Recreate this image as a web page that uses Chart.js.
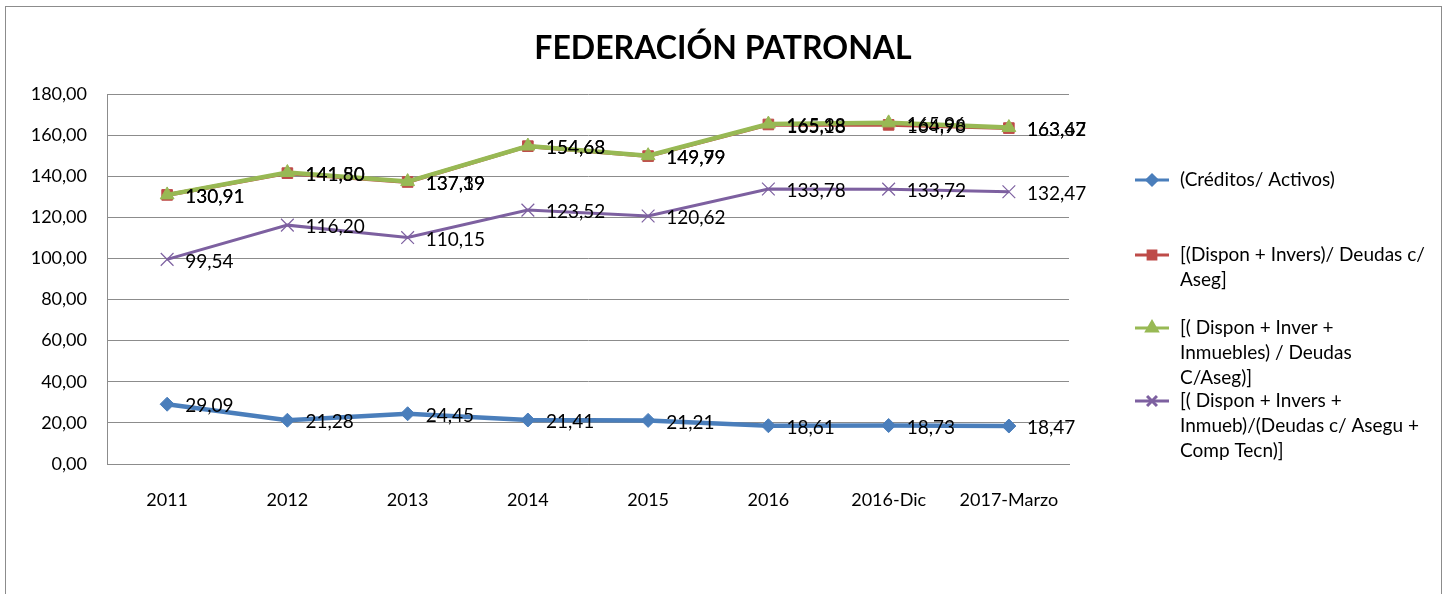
<!DOCTYPE html>
<html>
<head>
<meta charset="utf-8">
<title>Federación Patronal</title>
<script src="https://cdn.jsdelivr.net/npm/chart.js@4.4.1/dist/chart.umd.min.js"></script>
<style>
  html, body { margin: 0; padding: 0; background: #fff; }
  #wrap { position: relative; width: 1445px; height: 594px; overflow: hidden; }
  #marco { position: absolute; left: 5px; top: 6px; width: 1437px; height: 620px; border: 1px solid #8c8c8c; box-sizing: border-box; }
  #grafico { position: absolute; left: 0; top: 0; }
</style>
</head>
<body>
<div id="wrap">
  <div id="marco"></div>
  <canvas id="grafico" width="1445" height="594"></canvas>
</div>
<script>
// datos
var anios = ['2011', '2012', '2013', '2014', '2015', '2016', '2016-Dic', '2017-Marzo'];
var creditosActivos = [29.09, 21.28, 24.45, 21.41, 21.21, 18.61, 18.73, 18.47];
var disponInvers = [130.91, 141.50, 137.19, 154.63, 149.79, 165.18, 164.98, 163.42];
var disponInverInmuebles = [130.91, 141.80, 137.39, 154.68, 149.99, 165.38, 165.96, 163.67];
var disponInversCompTecn = [99.54, 116.20, 110.15, 123.52, 120.62, 133.78, 133.72, 132.47];
var ticksY = [0, 20, 40, 60, 80, 100, 120, 140, 160, 180];

var nombres = [
  ['(Créditos/ Activos)'],
  ['[(Dispon + Invers)/ Deudas c/', 'Aseg]'],
  ['[( Dispon + Inver +', 'Inmuebles) / Deudas', 'C/Aseg)]'],
  ['[( Dispon + Invers +', 'Inmueb)/(Deudas c/ Asegu +', 'Comp Tecn)]']
];

var fuente = 'Lato, "Open Sans", sans-serif';

function coma(v) {
  return v.toFixed(2).replace('.', ',');
}

// etiquetas de valor al lado de cada punto
var etiquetas = {
  id: 'etiquetas',
  afterDatasetsDraw: function (chart) {
    var ctx = chart.ctx;
    ctx.save();
    ctx.font = '19px ' + fuente;
    ctx.fillStyle = '#000';
    ctx.textBaseline = 'middle';
    ctx.textAlign = 'left';
    [1, 2, 3, 0].forEach(function (i) {
      var meta = chart.getDatasetMeta(i);
      meta.data.forEach(function (p, j) {
        ctx.fillText(coma(chart.data.datasets[i].data[j]), p.x + 18, p.y + 2);
      });
    });
    ctx.restore();
  }
};

// leyenda a la derecha
var leyenda = {
  id: 'leyenda',
  afterDraw: function (chart) {
    var ctx = chart.ctx;
    var ys = [180, 255, 328, 401];
    ctx.save();
    ctx.font = '19px ' + fuente;
    ctx.textBaseline = 'middle';
    chart.data.datasets.forEach(function (ds, i) {
      var y = ys[i];
      ctx.strokeStyle = ds.borderColor;
      ctx.lineWidth = 3;
      ctx.beginPath();
      ctx.moveTo(1135, y);
      ctx.lineTo(1169, y);
      ctx.stroke();
      ctx.fillStyle = ds.pointBackgroundColor;
      ctx.strokeStyle = ds.pointBorderColor;
      Chart.helpers.drawPoint(ctx, {
        pointStyle: ds.pointStyle,
        radius: ds.pointRadius - 2,
        rotation: 0,
        borderWidth: ds.pointBorderWidth
      }, 1152, y);
      ctx.fillStyle = '#000';
      nombres[i].forEach(function (t, k) {
        ctx.fillText(t, 1180, y + k * 25);
      });
    });
    ctx.restore();
  }
};

var ctxG = document.getElementById('grafico').getContext('2d');
var grafico = new Chart(ctxG, {
  type: 'line',
  data: {
    labels: anios,
    datasets: [{
      label: nombres[0].join(' '),
      data: creditosActivos,
      borderColor: '#4a7ebb',
      borderWidth: 4.5,
      pointStyle: 'rectRot',
      pointRadius: 7,
      pointBackgroundColor: '#4a7ebb',
      pointBorderColor: '#4a7ebb',
      pointBorderWidth: 1,
      order: 3
    }, {
      label: nombres[1].join(' '),
      data: disponInvers,
      borderColor: '#be4b48',
      borderWidth: 4,
      pointStyle: 'rect',
      pointRadius: 7.5,
      pointBackgroundColor: '#be4b48',
      pointBorderColor: '#be4b48',
      pointBorderWidth: 1,
      order: 2
    }, {
      label: nombres[2].join(' '),
      data: disponInverInmuebles,
      borderColor: '#98b954',
      borderWidth: 4.5,
      pointStyle: 'triangle',
      pointRadius: 8,
      pointBackgroundColor: '#98b954',
      pointBorderColor: '#98b954',
      pointBorderWidth: 1,
      order: 1
    }, {
      label: nombres[3].join(' '),
      data: disponInversCompTecn,
      borderColor: '#7d60a0',
      borderWidth: 3,
      pointStyle: 'crossRot',
      pointRadius: 9,
      pointBackgroundColor: '#7d60a0',
      pointBorderColor: '#7d60a0',
      pointBorderWidth: 1.2,
      order: 0
    }]
  },
  options: {
    responsive: false,
    animation: false,
    tension: 0,
    layout: { padding: { top: 94, right: 376, left: 0, bottom: 0 } },
    plugins: {
      legend: { display: false },
      tooltip: { enabled: false },
      title: { display: false }
    },
    scales: {
      x: {
        offset: true,
        grid: { display: false },
        border: { color: '#8c8c8c', width: 1 },
        ticks: { color: '#000', font: { family: fuente, size: 18 }, padding: 17, maxRotation: 0 },
        afterFit: function (s) { s.height = 130; }
      },
      y: {
        min: 0,
        max: 180,
        afterBuildTicks: function (s) { s.ticks = ticksY.map(function (v) { return { value: v }; }); },
        grid: { color: '#8c8c8c', drawTicks: false },
        border: { color: '#8c8c8c', width: 1 },
        ticks: { color: '#000', font: { family: fuente, size: 18 }, padding: 20, callback: function (v) { return coma(v); } },
        afterFit: function (s) { s.width = 107; }
      }
    }
  },
  plugins: [etiquetas, leyenda, {
    id: 'titulo',
    afterDraw: function (chart) {
      var ctx = chart.ctx;
      ctx.save();
      ctx.font = 'bold 32px ' + fuente;
      ctx.fillStyle = '#000';
      ctx.textAlign = 'center';
      ctx.textBaseline = 'middle';
      ctx.fillText('FEDERACIÓN PATRONAL', 723, 49);
      ctx.restore();
    }
  }]
});
</script>
</body>
</html>
